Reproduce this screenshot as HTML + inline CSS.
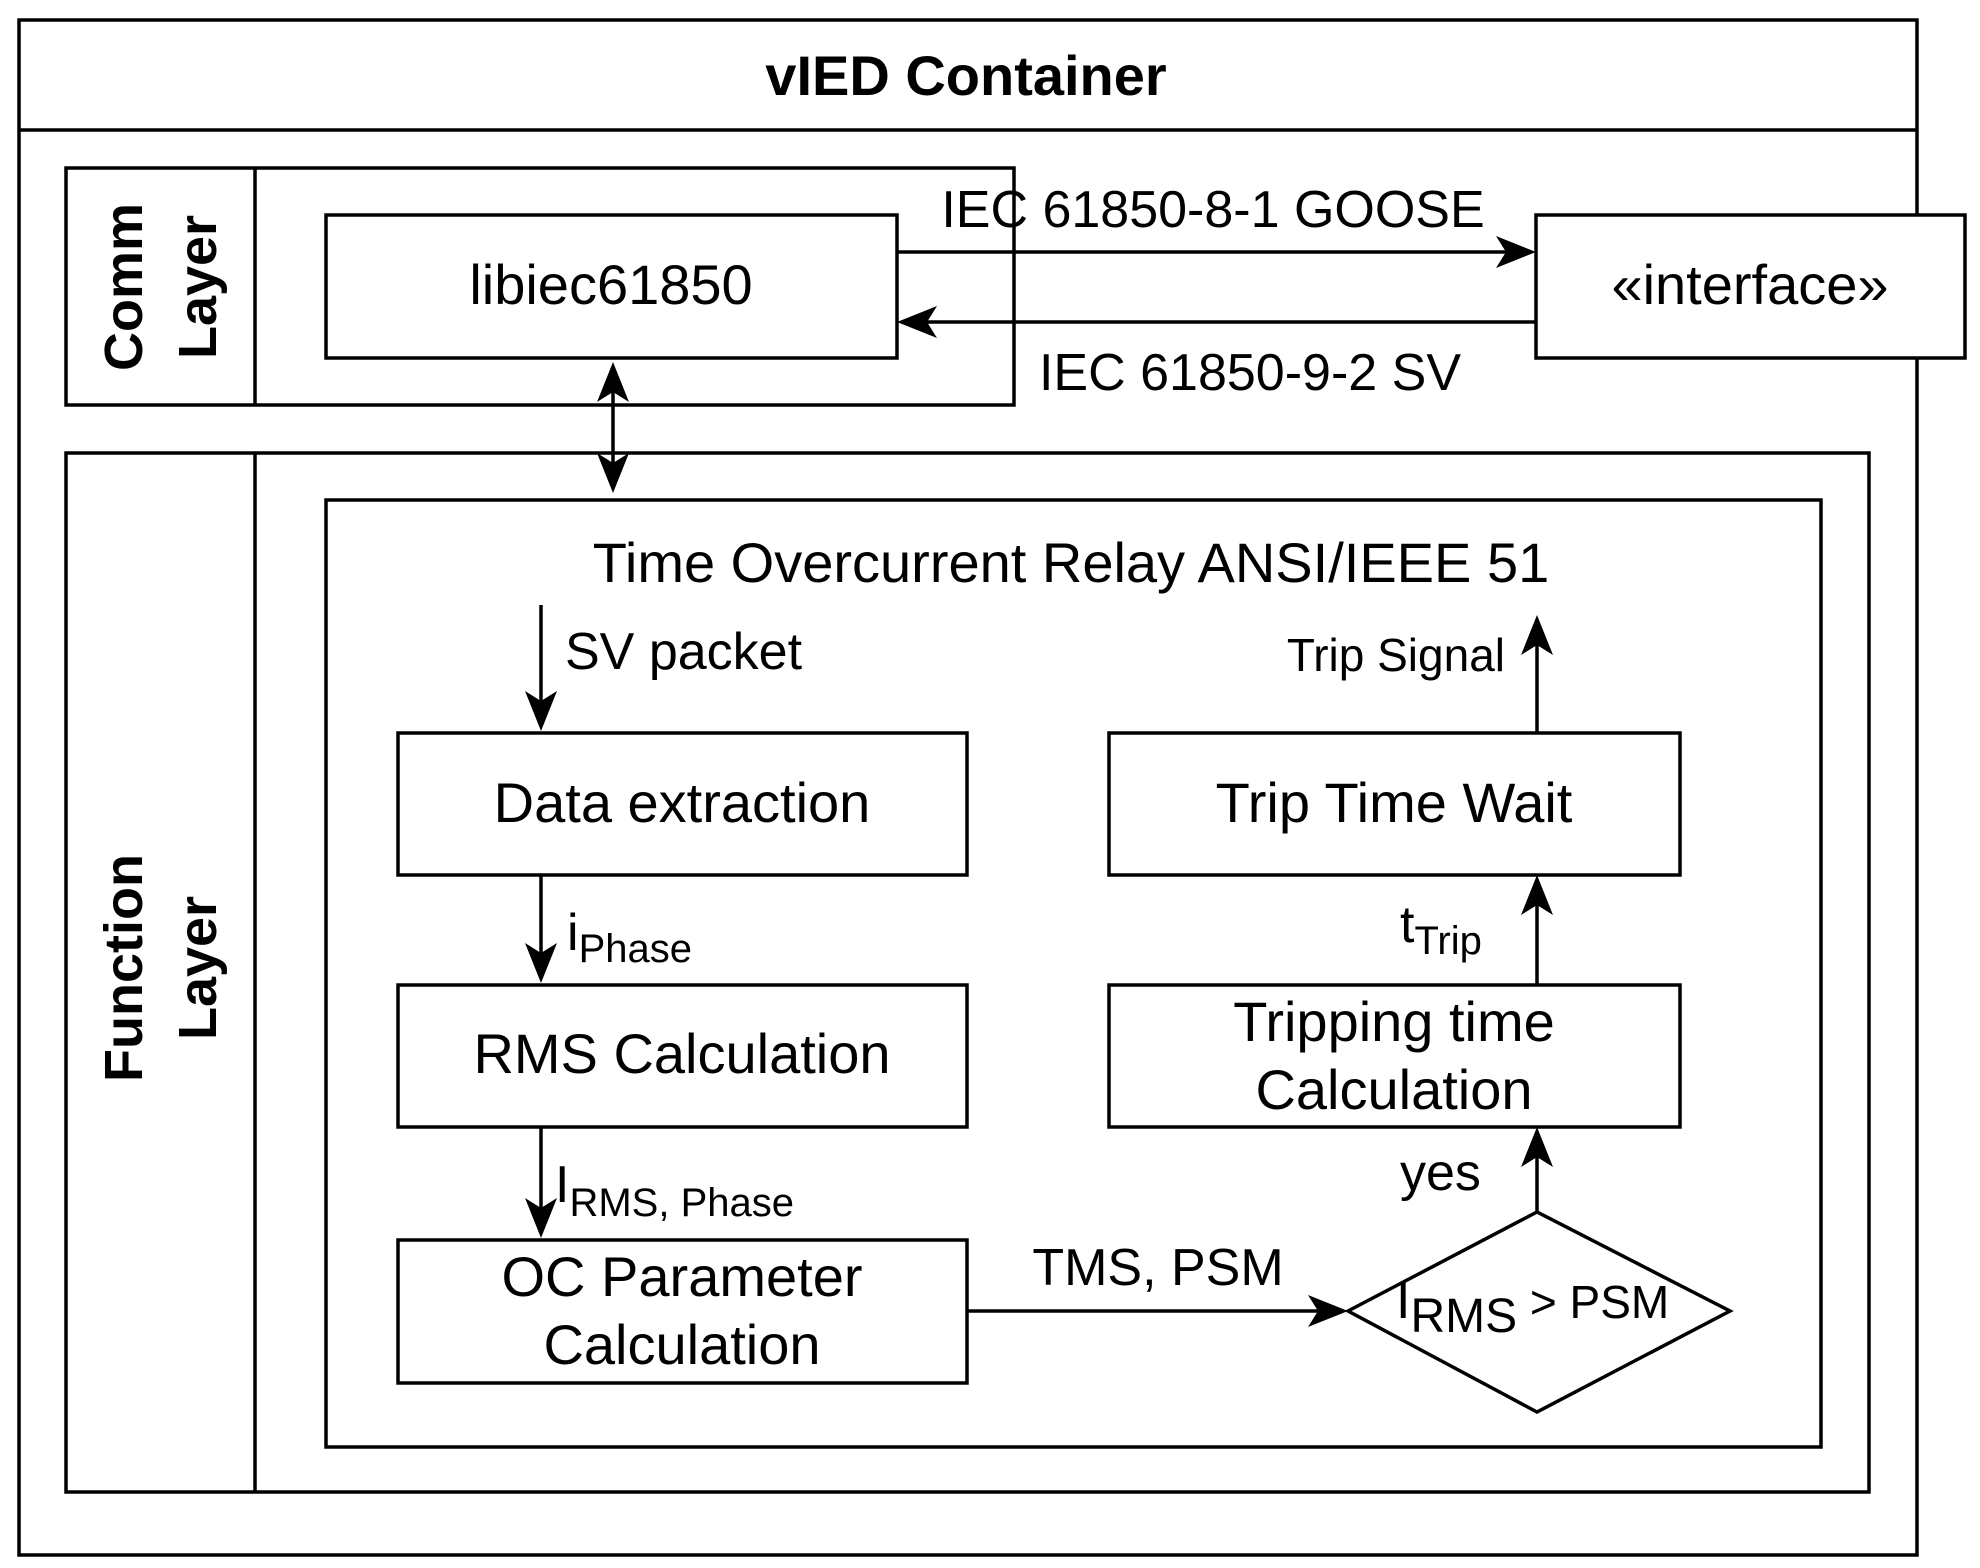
<!DOCTYPE html>
<html><head><meta charset="utf-8"><style>
html,body{margin:0;padding:0;background:#fff;}
svg{display:block;}
text{font-family:"Liberation Sans",Arial,sans-serif;fill:#000;}
</style></head><body>
<svg width="1980" height="1568" viewBox="0 0 1980 1568" xmlns="http://www.w3.org/2000/svg">
<g fill="none" stroke="#000" stroke-width="3.5">
<rect x="19" y="20" width="1898" height="1535"/>
<line x1="19" y1="130" x2="1917" y2="130"/>
<rect x="66" y="168" width="948" height="237"/>
<line x1="255" y1="168" x2="255" y2="405"/>
<rect x="326" y="215" width="571" height="143" fill="#fff"/>
<rect x="1536" y="215" width="429" height="143" fill="#fff"/>
<rect x="66" y="453" width="1803" height="1039"/>
<line x1="255" y1="453" x2="255" y2="1492"/>
<rect x="326" y="500" width="1495" height="947"/>
<rect x="398" y="733" width="569" height="142"/>
<rect x="398" y="985" width="569" height="142"/>
<rect x="398" y="1240" width="569" height="143"/>
<rect x="1109" y="733" width="571" height="142"/>
<rect x="1109" y="985" width="571" height="142"/>
<polygon points="1348,1311 1537,1212 1730,1311 1537,1412"/>
<line x1="897" y1="252" x2="1510" y2="252"/>
<line x1="1536" y1="322" x2="922" y2="322"/>
<line x1="613" y1="385" x2="613" y2="470"/>
<line x1="541" y1="605" x2="541" y2="705"/>
<line x1="541" y1="875" x2="541" y2="958"/>
<line x1="541" y1="1127" x2="541" y2="1213"/>
<line x1="967" y1="1311" x2="1322" y2="1311"/>
<line x1="1537" y1="1212" x2="1537" y2="1153"/>
<line x1="1537" y1="985" x2="1537" y2="901"/>
<line x1="1537" y1="733" x2="1537" y2="641"/>
</g>
<g fill="#000" stroke="none">
<polygon points="1536,252 1496,236 1506,252 1496,268"/>
<polygon points="897,322 937,306 927,322 937,338"/>
<polygon points="613,362 597,402 613,392 629,402"/>
<polygon points="613,493 597,453 613,463 629,453"/>
<polygon points="541,731 525,691 541,701 557,691"/>
<polygon points="541,983 525,943 541,953 557,943"/>
<polygon points="541,1238 525,1198 541,1208 557,1198"/>
<polygon points="1348,1311 1308,1295 1318,1311 1308,1327"/>
<polygon points="1537,1127 1521,1167 1537,1157 1553,1167"/>
<polygon points="1537,875 1521,915 1537,905 1553,915"/>
<polygon points="1537,615 1521,655 1537,645 1553,655"/>
</g>
<text x="966" y="95" font-size="56" font-weight="bold" text-anchor="middle">vIED Container</text>
<text transform="translate(142,287) rotate(-90)" font-size="54" font-weight="bold" text-anchor="middle">Comm</text>
<text transform="translate(216,287) rotate(-90)" font-size="54" font-weight="bold" text-anchor="middle">Layer</text>
<text transform="translate(142,968) rotate(-90)" font-size="54" font-weight="bold" text-anchor="middle">Function</text>
<text transform="translate(216,968) rotate(-90)" font-size="54" font-weight="bold" text-anchor="middle">Layer</text>
<text x="611" y="304" font-size="56" text-anchor="middle">libiec61850</text>
<text x="1750" y="304" font-size="56" text-anchor="middle">«interface»</text>
<text x="1213" y="227" font-size="52" text-anchor="middle">IEC 61850-8-1 GOOSE</text>
<text x="1250" y="390" font-size="52" text-anchor="middle">IEC 61850-9-2 SV</text>
<text x="1071" y="582" font-size="56" text-anchor="middle">Time Overcurrent Relay ANSI/IEEE 51</text>
<text x="565" y="669" font-size="52">SV packet</text>
<text x="682" y="822" font-size="56" text-anchor="middle">Data extraction</text>
<text x="682" y="1073" font-size="56" text-anchor="middle">RMS Calculation</text>
<text x="682" y="1296" font-size="56" text-anchor="middle">OC Parameter</text>
<text x="682" y="1364" font-size="56" text-anchor="middle">Calculation</text>
<text x="1394" y="822" font-size="56" text-anchor="middle">Trip Time Wait</text>
<text x="1394" y="1041" font-size="56" text-anchor="middle">Tripping time</text>
<text x="1394" y="1109" font-size="56" text-anchor="middle">Calculation</text>
<text x="1505" y="671" font-size="46" text-anchor="end">Trip Signal</text>
<text x="567" y="950" font-size="52">i<tspan font-size="40" dy="12">Phase</tspan></text>
<text x="555" y="1202" font-size="52">I<tspan font-size="40" dy="14">RMS, Phase</tspan></text>
<text x="1400" y="942" font-size="52">t<tspan font-size="40" dy="12">Trip</tspan></text>
<text x="1400" y="1190" font-size="52">yes</text>
<text x="1158" y="1285" font-size="52" text-anchor="middle">TMS, PSM</text>
<text x="1396" y="1318" font-size="52">I<tspan font-size="48" dy="14">RMS</tspan><tspan font-size="46" dy="-14"> &gt; PSM</tspan></text>
</svg>
</body></html>
